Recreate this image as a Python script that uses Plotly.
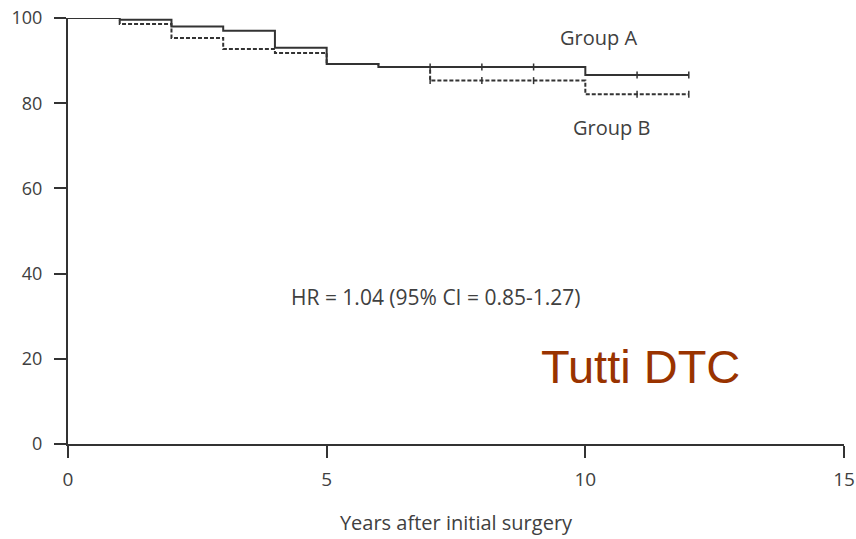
import plotly.graph_objects as go

# Kaplan-Meier style step data (percent surviving) by year after surgery
years = [0, 1, 2, 3, 4, 5, 6, 7, 8, 9, 10, 11, 12]
group_a = [100, 99.6, 98.0, 97.0, 93.0, 89.2, 88.5, 88.5, 88.5, 88.5, 86.6, 86.6, 86.6]
group_b = [100, 98.6, 95.3, 92.7, 91.8, 89.2, 88.5, 85.3, 85.3, 85.3, 82.1, 82.1, 82.1]

# censoring marks
censor_years = [7, 8, 9, 11, 12]
censor_a = [88.5, 88.5, 88.5, 86.6, 86.6]
censor_b = [85.3, 85.3, 85.3, 82.1, 82.1]

x_ticks = [0, 5, 10, 15]
y_ticks = [0, 20, 40, 60, 80, 100]

ink = "#333333"
text_col = "#404040"
txt_font = "'Open Sans', Lato, sans-serif"

fig = go.Figure()

fig.add_trace(go.Scatter(
    x=years, y=group_b, mode="lines", line_shape="hv",
    line=dict(color=ink, width=2, dash="4px,2px"), showlegend=False))
fig.add_trace(go.Scatter(
    x=years, y=group_a, mode="lines", line_shape="hv",
    line=dict(color=ink, width=2), showlegend=False))

for cy in (censor_a, censor_b):
    fig.add_trace(go.Scatter(
        x=censor_years, y=cy, mode="markers",
        marker=dict(symbol="line-ns", size=5, line=dict(color=ink, width=1.5)),
        showlegend=False))

fig.add_annotation(x=10.25, y=95.5, text="Group A", showarrow=False,
                   font=dict(family=txt_font, size=20, color=text_col))
fig.add_annotation(x=10.5, y=74.2, text="Group B", showarrow=False,
                   font=dict(family=txt_font, size=20, color=text_col))
fig.add_annotation(x=7.11, y=34.5, text="HR = 1.04 (95% CI = 0.85-1.27)",
                   showarrow=False,
                   font=dict(family=txt_font, size=21, color=text_col))
fig.add_annotation(x=11.06, y=18.1, text="Tutti DTC", showarrow=False,
                   font=dict(family="Liberation Sans, Arial, sans-serif",
                             size=47, color="#993300"))

fig.update_xaxes(
    range=[0, 15], tickvals=x_ticks, showgrid=False, zeroline=False,
    showline=True, linecolor=ink, linewidth=2, automargin=False,
    ticks="outside", ticklen=12, tickwidth=2, tickcolor=ink,
    ticklabelstandoff=5,
    tickfont=dict(family=txt_font, size=19, color=text_col),
    title=dict(text="Years after initial surgery", standoff=25,
               font=dict(family=txt_font, size=20, color=text_col)))
fig.update_yaxes(
    range=[0, 100], tickvals=y_ticks, showgrid=False, zeroline=False,
    showline=True, linecolor=ink, linewidth=2, automargin=False,
    ticks="outside", ticklen=12, tickwidth=2, tickcolor=ink,
    ticklabelstandoff=8,
    tickfont=dict(family=txt_font, size=18, color=text_col))

fig.update_layout(
    width=856, height=539,
    margin=dict(l=68, r=12, t=18, b=95),
    paper_bgcolor="white", plot_bgcolor="white",
)

fig.write_html("out.html")
